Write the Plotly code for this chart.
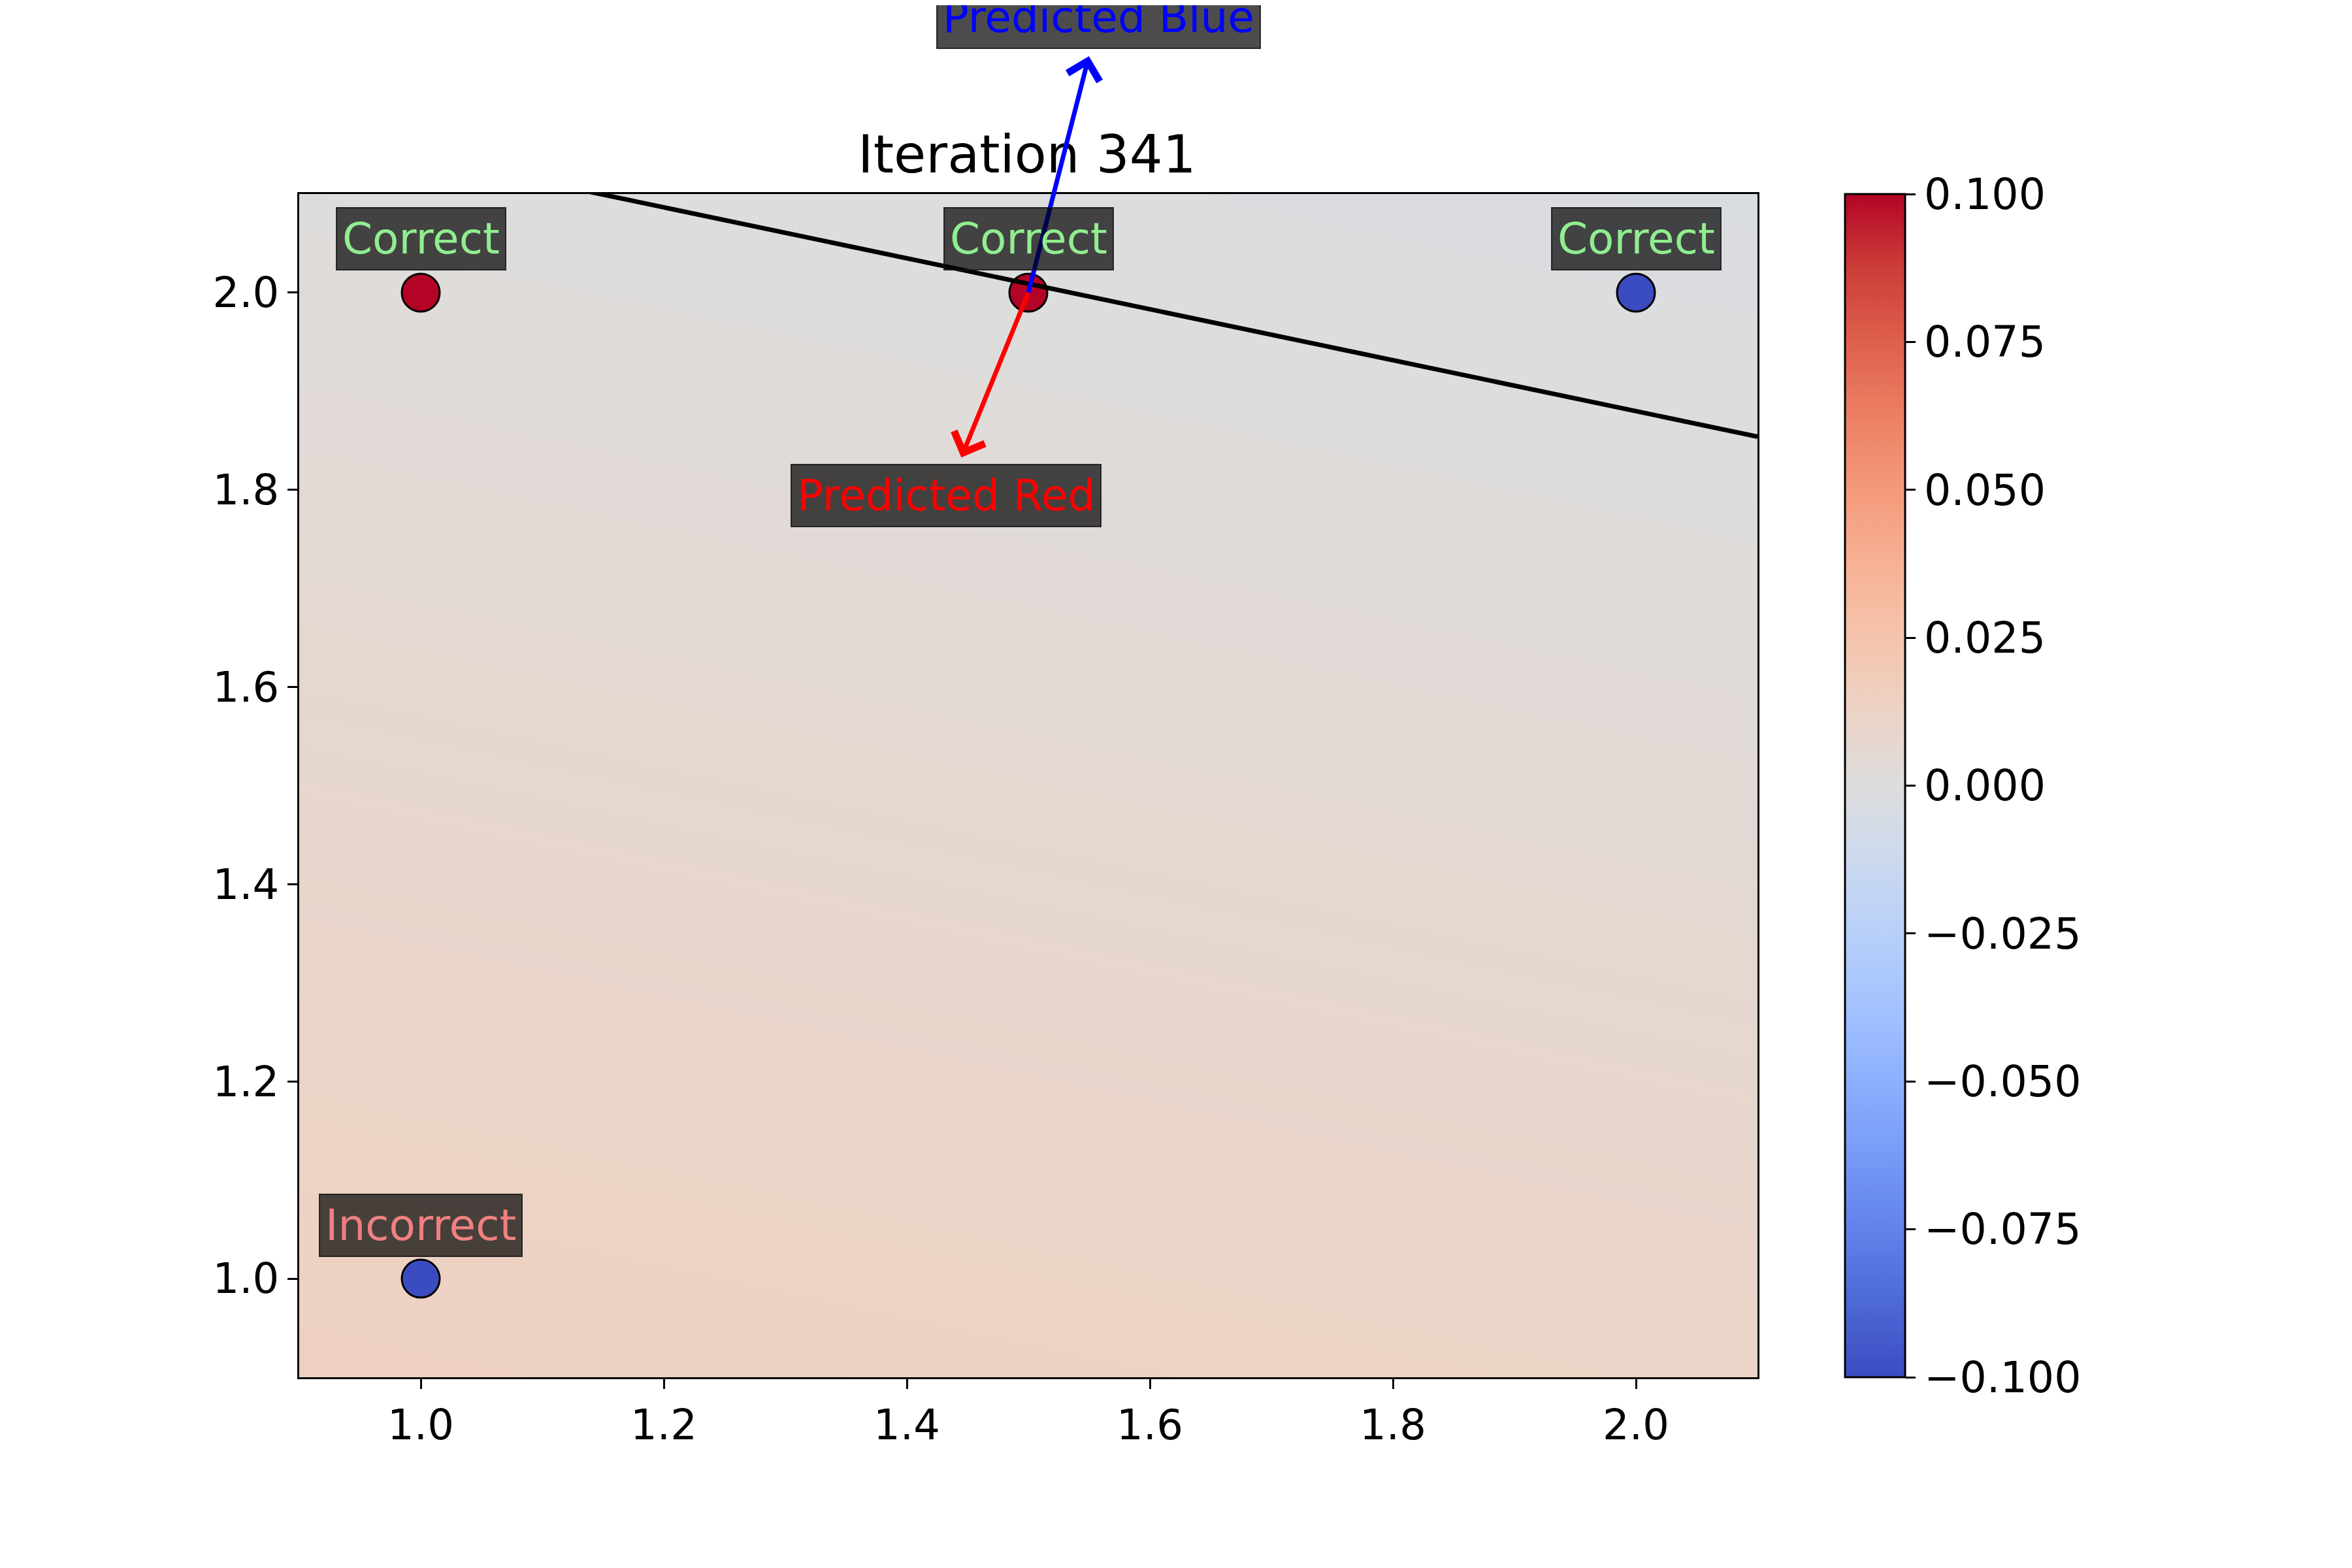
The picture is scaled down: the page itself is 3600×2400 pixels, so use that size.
import plotly.graph_objects as go

grid_x = [0.9, 1.5, 2.1]
grid_y = [0.9, 1.5, 2.1]
grid_z = [
    [0.0152, 0.0133, 0.0114],
    [0.0080, 0.0061, 0.0042],
    [0.0008, -0.0011, -0.0030],
]

# training points
pts_x = [1.0, 1.0, 1.5, 2.0]
pts_y = [1.0, 2.0, 2.0, 2.0]
pts_label = [0, 1, 1, 0]
pts_status = ["Incorrect", "Correct", "Correct", "Correct"]

# decision boundary
line_x = [0.9, 2.1]
line_y = [2.164, 1.854]

# gradient arrows from the point under update
arrow_from = (1.5, 2.0)
arrow_text = ["Predicted Blue", "Predicted Red"]
arrow_to_x = [1.558, 1.432]
arrow_to_y = [2.279, 1.794]
arrow_color = ["#0000ff", "#ff0000"]

cbar_ticks = [-0.1, -0.075, -0.05, -0.025, 0.0, 0.025, 0.05, 0.075, 0.1]

coolwarm = [
    [0.0, "rgb(59,76,192)"], [0.0625, "rgb(77,104,215)"], [0.125, "rgb(98,130,234)"],
    [0.1875, "rgb(119,154,247)"], [0.25, "rgb(141,176,254)"], [0.3125, "rgb(163,194,255)"],
    [0.375, "rgb(184,208,249)"], [0.4375, "rgb(204,217,238)"], [0.5, "rgb(221,221,221)"],
    [0.5625, "rgb(236,211,197)"], [0.625, "rgb(245,196,173)"], [0.6875, "rgb(247,177,148)"],
    [0.75, "rgb(244,154,123)"], [0.8125, "rgb(236,127,99)"], [0.875, "rgb(222,96,77)"],
    [0.9375, "rgb(203,62,56)"], [1.0, "rgb(180,4,38)"],
]

FONT = "DejaVu Sans"

fig = go.Figure()

fig.add_trace(go.Heatmap(
    x=grid_x, y=grid_y, z=grid_z,
    colorscale=coolwarm, zmin=-0.1, zmax=0.1, zsmooth="best",
    colorbar=dict(
        x=1.060, xanchor="left", xpad=0, y=0.5, yanchor="middle", ypad=0,
        len=1, lenmode="fraction", thickness=92, thicknessmode="pixels",
        outlinecolor="black", outlinewidth=3,
        tickvals=cbar_ticks, tickformat=".3f", ticks="outside",
        ticklen=15, tickwidth=3, tickcolor="black",
        tickfont=dict(family=FONT, size=65, color="black"),
    ),
    hoverinfo="skip",
))

fig.add_trace(go.Scatter(
    x=pts_x, y=pts_y, mode="markers",
    marker=dict(size=58, color=pts_label, colorscale=coolwarm, cmin=0, cmax=1,
                line=dict(color="black", width=3)),
    showlegend=False,
))

fig.add_trace(go.Scatter(
    x=line_x, y=line_y, mode="lines",
    line=dict(color="black", width=7),
    showlegend=False,
))

# arrows first so the status boxes sit on top of them
for txt, tx, ty, col in zip(arrow_text, arrow_to_x, arrow_to_y, arrow_color):
    fig.add_annotation(
        x=arrow_from[0], y=arrow_from[1], xref="x", yref="y",
        ax=tx, ay=ty, axref="x", ayref="y",
        text=txt, showarrow=True, arrowside="start",
        startarrowhead=4, startarrowsize=1.4, arrowwidth=7, arrowcolor=col,
        startstandoff=12,
        font=dict(family=FONT, size=66, color=col),
        bgcolor="rgba(0,0,0,0.7)", bordercolor="rgba(20,20,20,0.85)",
        borderwidth=2, borderpad=8,
    )

for x, y, s in zip(pts_x, pts_y, pts_status):
    fig.add_annotation(
        x=x, y=y, xref="x", yref="y", yshift=82, showarrow=False,
        text=s,
        font=dict(family=FONT, size=66,
                  color="#90ee90" if s == "Correct" else "#f08080"),
        bgcolor="rgba(0,0,0,0.7)", bordercolor="rgba(20,20,20,0.85)",
        borderwidth=2, borderpad=8,
    )

axis = dict(
    range=[0.9, 2.1], tick0=1.0, dtick=0.2, tickformat=".1f",
    showgrid=False, zeroline=False, showline=True, mirror=True,
    linecolor="black", linewidth=3,
    ticks="outside", ticklen=15, tickwidth=3, tickcolor="black",
    tickfont=dict(family=FONT, size=64, color="black"),
)

fig.update_layout(
    width=3600, height=2400,
    margin=dict(l=450, r=918, t=289, b=300),
    paper_bgcolor="white", plot_bgcolor="white",
    title=dict(text="Iteration 341", x=0.4344, xanchor="center",
               y=0.8935, yanchor="bottom", yref="container",
               font=dict(family=FONT, size=80, color="black")),
    xaxis=axis, yaxis=axis,
    showlegend=False,
)

fig.write_html("out.html")
